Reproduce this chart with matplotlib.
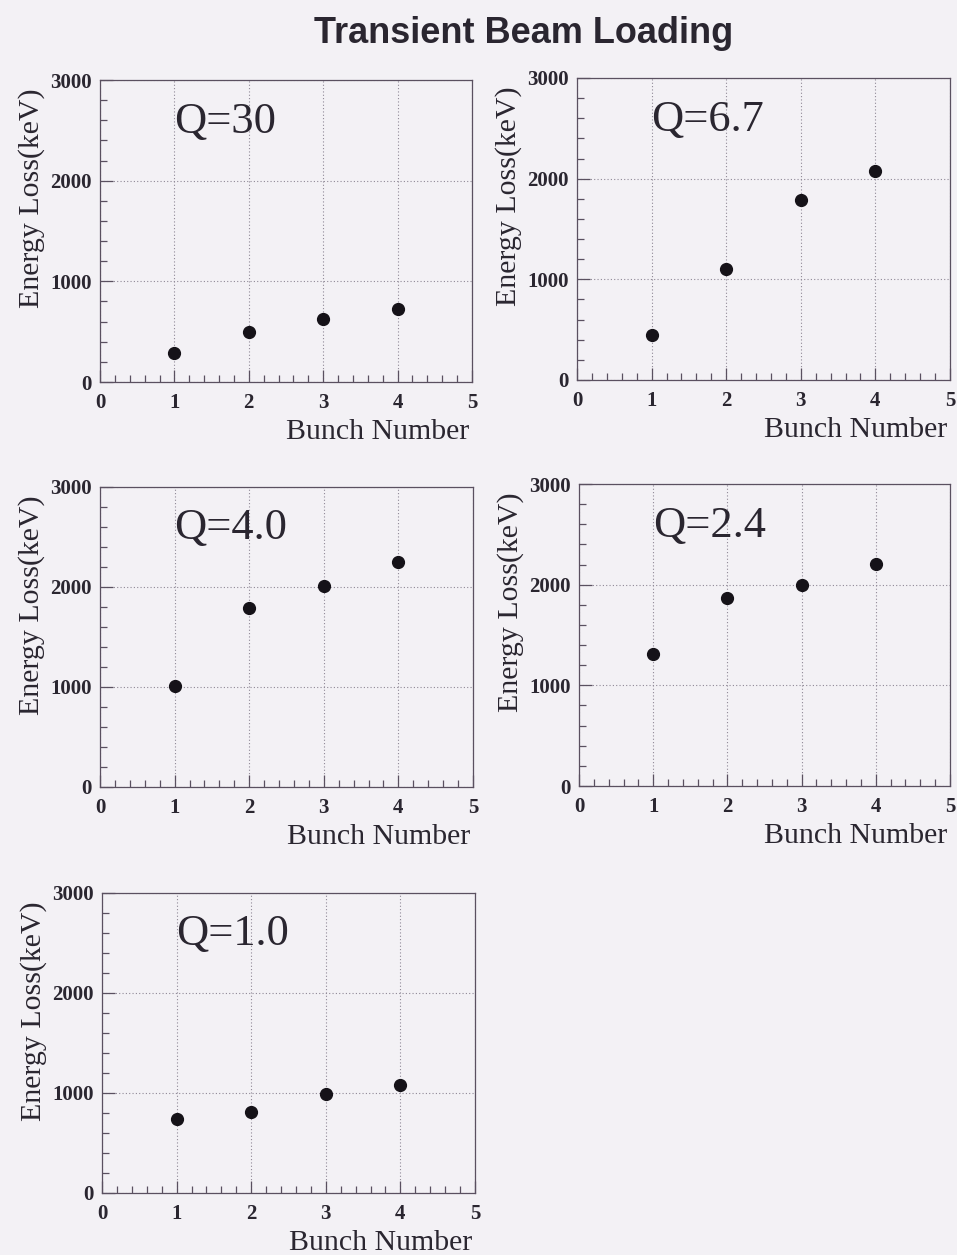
import matplotlib
matplotlib.use("Agg")
import matplotlib.pyplot as plt
from matplotlib.ticker import MultipleLocator

# Energy loss per bunch for each loaded-Q setting
bunch = [1, 2, 3, 4]
q_labels = ["Q=30", "Q=6.7", "Q=4.0", "Q=2.4", "Q=1.0"]
loss_q30 = [285, 500, 630, 730]
loss_q6_7 = [450, 1105, 1790, 2075]
loss_q4_0 = [1010, 1790, 2010, 2255]
loss_q2_4 = [1310, 1870, 2000, 2205]
loss_q1_0 = [740, 810, 990, 1085]
series = [loss_q30, loss_q6_7, loss_q4_0, loss_q2_4, loss_q1_0]

x_ticks = [0, 1, 2, 3, 4, 5]
y_ticks = [0, 1000, 2000, 3000]

W, H = 957, 1255
bg = "#f3f1f5"
ink = "#2a2630"
spine_col = "#5a5060"

fig = plt.figure(figsize=(W / 100, H / 100), dpi=100, facecolor=bg)

# panel boxes in pixels: left, top, right, bottom
boxes = [
    (100, 80, 472, 382),
    (577, 78, 950, 380),
    (100, 487, 473, 787),
    (579, 484, 950, 786),
    (102, 893, 475, 1193),
]

serif = "Liberation Serif"

for (l, t, r, b), lab, vals in zip(boxes, q_labels, series):
    ax = fig.add_axes([l / W, 1 - b / H, (r - l) / W, (b - t) / H])
    ax.set_facecolor(bg)
    ax.set_xlim(0, 5)
    ax.set_ylim(0, 3000)
    ax.set_xticks(x_ticks)
    ax.set_yticks(y_ticks)
    ax.xaxis.set_minor_locator(MultipleLocator(0.2))
    ax.yaxis.set_minor_locator(MultipleLocator(200))
    ax.tick_params(which="both", direction="in", top=False, right=False,
                   color=spine_col, width=0.9)
    ax.tick_params(which="major", length=9)
    ax.tick_params(which="minor", length=5)
    ax.tick_params(axis="y", which="major", pad=6)
    ax.tick_params(axis="x", which="major", pad=8)
    for lbl in ax.get_xticklabels() + ax.get_yticklabels():
        lbl.set_fontfamily(serif)
        lbl.set_fontweight("bold")
        lbl.set_fontsize(15)
        lbl.set_color(ink)
    for sp in ax.spines.values():
        sp.set_color(spine_col)
        sp.set_linewidth(0.9)
    ax.grid(True, which="major", linestyle=(0, (1, 2)), color="#8f8896",
            linewidth=0.8)
    ax.set_axisbelow(True)

    ax.plot(bunch, vals, "o", color="#151218", markersize=8.5, zorder=5)

    ax.set_ylabel("Energy Loss(keV)", fontfamily=serif, fontsize=21.5,
                  color=ink)
    ax.yaxis.set_label_coords(-68 / (r - l), 1 - 8 / (b - t))
    ax.yaxis.label.set_ha("right")
    ax.yaxis.label.set_va("center")
    ax.set_xlabel("Bunch Number", fontfamily=serif, fontsize=21.5, color=ink)
    ax.xaxis.set_label_coords(1 - 3 / (r - l), -50 / (b - t))
    ax.xaxis.label.set_ha("right")
    ax.xaxis.label.set_va("center")

    ax.text(0.20, 0.825, lab, transform=ax.transAxes, fontfamily=serif,
            fontsize=32, color=ink, ha="left", va="baseline")

fig.text(524 / W, 1 - 43 / H, "Transient Beam Loading", fontfamily="Liberation Sans",
         fontweight="bold", fontsize=26, color=ink, ha="center", va="baseline")

fig.savefig("out.png", dpi=100, facecolor=bg)
